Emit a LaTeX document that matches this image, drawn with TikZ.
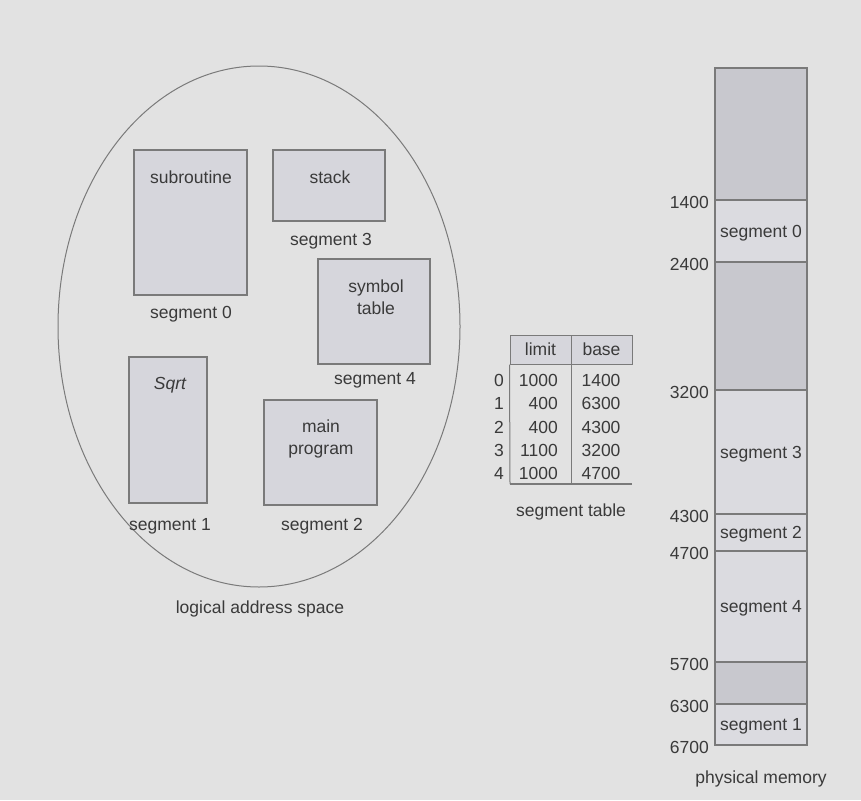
\documentclass[tikz,border=0pt]{standalone}
\usepackage{fontspec}
\setmainfont{Liberation Sans}
\usetikzlibrary{positioning,shapes.geometric}
\definecolor{bggrey}{HTML}{E2E2E2}
\definecolor{boxfill}{HTML}{D6D6DC}
\definecolor{holefill}{HTML}{C8C8CE}
\definecolor{usedfill}{HTML}{DBDBE0}
\definecolor{edge}{HTML}{7A7A7A}
\definecolor{ink}{HTML}{3A3A3A}

\begin{document}
\begin{tikzpicture}[x=1pt, y=-1pt,
    txt/.style={font=\fontsize{17.5}{22}\selectfont, text=ink},
    lbl/.style={txt, inner sep=2pt, align=center, yshift=-1.5pt},
    segbox/.style={draw=edge, fill=boxfill, line width=1.1pt, inner sep=0pt},
    memblock/.style={txt, draw=edge, line width=1.1pt, inner sep=0pt, minimum width=92pt,
                     text height=14pt, text depth=1.5pt},
    hdrcell/.style={txt, draw=edge, fill=boxfill, line width=1pt, minimum width=61pt, minimum height=29pt}]
    \fill[bggrey] (0,0) rectangle (861,800);
    \useasboundingbox (0,0) rectangle (861,800);

    % logical address space
    \node[ellipse, draw=edge, line width=1pt, minimum width=402pt, minimum height=521pt] (las) at (259,326.5) {};
    \node[segbox, minimum width=113pt, minimum height=145pt] (sub) at (190.5,222.5) {};
    \node[segbox, minimum width=112pt, minimum height=71pt] (stk) at (329,185.5) {};
    \node[segbox, minimum width=112pt, minimum height=105pt] (sym) at (374,311.5) {};
    \node[segbox, minimum width=78pt, minimum height=146pt] (sqrt) at (168,430) {};
    \node[segbox, minimum width=113pt, minimum height=105pt] (main) at (320.5,452.5) {};
    \node[lbl] (sub-txt) at (191,176) {subroutine};
    \node[lbl] (stk-txt) at (330,176) {stack};
    \node[lbl] (sym-txt) at (376,296) {symbol\\table};
    \node[lbl, font=\fontsize{17.5}{22}\selectfont\itshape] (sqrt-txt) at (170,384) {Sqrt};
    \node[lbl] (main-txt) at (321,437) {main\\program};
    \node[lbl] (sub-cap) at (191,313) {segment 0};
    \node[lbl] (stk-cap) at (331,240) {segment 3};
    \node[lbl] (sym-cap) at (375,379) {segment 4};
    \node[lbl] (sqrt-cap) at (170,525) {segment 1};
    \node[lbl] (main-cap) at (322,525) {segment 2};
    \node[lbl] (las-cap) at (260,607) {logical address space};

    % segment table
    \node[hdrcell] (hlimit) at (540.5,349.5) {limit};
    \node[hdrcell] (hbase) at (601.5,349.5) {base};
    \coordinate (tbl-bl) at (510,484);
    \coordinate (tbl-br) at (632,484);
    \draw[edge, line width=1pt] (hlimit.south west) -- (tbl-bl);
    \draw[edge, line width=1pt] (hlimit.south east) -- (hlimit.south east |- tbl-bl);
    \draw[edge, line width=2pt] (tbl-bl) -- (tbl-br);
    \foreach \i/\lim/\bas in {0/1000/1400, 1/400/6300, 2/400/4300, 3/1100/3200, 4/1000/4700}
      { \pgfmathsetmacro\ry{379+\i*23.3}
        \node[lbl] (idx-\i) at (499,\ry) {\i};
        \node[lbl, anchor=east] (lim-\i) at (560,\ry) {\lim};
        \node[lbl] (bas-\i) at (601,\ry) {\bas}; }
    \node[lbl] (tbl-cap) at (571,510) {segment table};

    % physical memory
    \foreach \n/\t/\b/\c/\txt in {m0/68/200/holefill/, m1/200/262/usedfill/segment 0,
                                  m2/262/390/holefill/, m3/390/514/usedfill/segment 3,
                                  m4/514/551/usedfill/segment 2, m5/551/662/usedfill/segment 4,
                                  m6/662/704/holefill/, m7/704/745/usedfill/segment 1}
      { \pgfmathsetmacro\h{\b-\t}
        \pgfmathsetmacro\m{(\t+\b)/2}
        \node[memblock, fill=\c, minimum height=\h pt] (\n) at (761,\m) {\txt}; }
    \foreach \a/\y in {1400/200, 2400/262, 3200/390, 4300/514, 4700/551, 5700/662, 6300/704, 6700/745}
      \node[lbl, anchor=east] (addr-\a) at (711,{\y+1}) {\a};
    \node[lbl] (mem-cap) at (761,777) {physical memory};
\end{tikzpicture}
\end{document}
